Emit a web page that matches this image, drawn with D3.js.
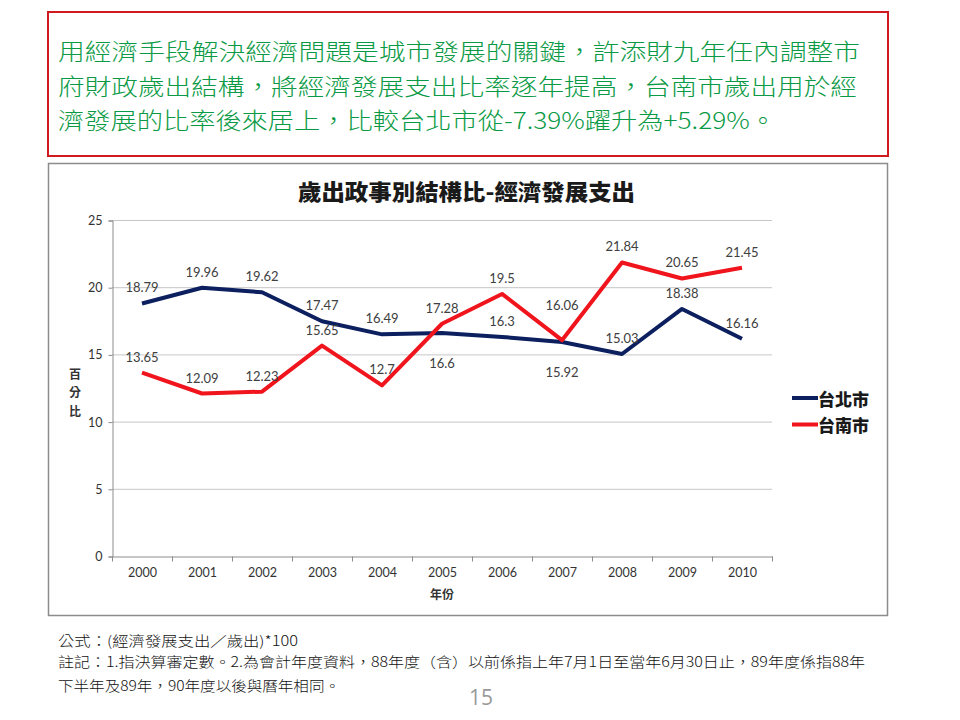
<!DOCTYPE html>
<html>
<head>
	<meta charset="utf-8">
	<script src="https://d3js.org/d3.v7.min.js"></script>
	<title></title>
	<style type="text/css">
		body{
			margin:0;
			background:#ffffff;
		}
		.grid line{
			stroke:#c6c6c6;
		}
		.lbl{
			font-family: Lato, "Open Sans", sans-serif;
			font-size:13px;
			fill:#404040;
		}
	</style>
</head>
<body>

	<div id="chart"></div>

	<script type="text/javascript">

		// chart data
		var years = ["2000","2001","2002","2003","2004","2005","2006","2007","2008","2009","2010"];
		var taipei = [18.79, 19.96, 19.62, 17.47, 16.49, 16.6, 16.3, 15.92, 15.03, 18.38, 16.16];
		var tainan = [13.65, 12.09, 12.23, 15.65, 12.7, 17.28, 19.5, 16.06, 21.84, 20.65, 21.45];
		var seriesNames = ["台北市", "台南市"];
		var yTicks = [0, 5, 10, 15, 20, 25];
		// labels moved by hand in the original
		var taipeiBelow = ["2005", "2007"];
		var tainanRaised = ["2007"];

		var chartTitle = "歲出政事別結構比-經濟發展支出";
		var yTitle = ["百", "分", "比"];
		var xTitle = "年份";
		var headLines = [
			"用經濟手段解決經濟問題是城市發展的關鍵，許添財九年任內調整市",
			"府財政歲出結構，將經濟發展支出比率逐年提高，台南市歲出用於經",
			"濟發展的比率後來居上，比較台北市從-7.39%躍升為+5.29%。"
		];
		var notes = [
			"公式：(經濟發展支出／歲出)*100",
			"註記：1.指決算審定數。2.為會計年度資料，88年度（含）以前係指上年7月1日至當年6月30日止，89年度係指88年",
			"下半年及89年，90年度以後與曆年相同。"
		];
		var pageNo = "15";

		var width = 960, height = 720;

		var svg = d3.select("#chart")
		  .append("svg")
		  .attr("width", width)
		  .attr("height", height);

		// top red box with green text
		svg.append("rect")
		  .attr("x", 48).attr("y", 12)
		  .attr("width", 840).attr("height", 144)
		  .attr("fill", "none")
		  .attr("stroke", "#d01a1f")
		  .attr("stroke-width", 2);

		var headLen = [802, 799, 718];
		svg.selectAll(".head")
		  .data(headLines)
		  .enter().append("text")
		  .attr("class", "head")
		  .attr("x", 58)
		  .attr("y", function(d, i){ return 50 + i * 34.5 })
		  .attr("dominant-baseline", "central")
		  .attr("textLength", function(d, i){ return headLen[i] })
		  .attr("lengthAdjust", "spacingAndGlyphs")
		  .style("font-family", '"Noto Sans CJK TC", sans-serif')
		  .style("font-weight", "300")
		  .style("font-size", "23px")
		  .style("fill", "#0a9a45")
		  .text(function(d){ return d });

		// chart frame
		svg.append("rect")
		  .attr("x", 48.5).attr("y", 163.5)
		  .attr("width", 839).attr("height", 452)
		  .attr("fill", "#ffffff")
		  .attr("stroke", "#8c8c8c")
		  .attr("stroke-width", 1.5);

		svg.append("text")
		  .attr("x", 298).attr("y", 190)
		  .attr("dominant-baseline", "central")
		  .attr("textLength", 337)
		  .attr("lengthAdjust", "spacingAndGlyphs")
		  .style("font-family", '"Noto Sans CJK TC", sans-serif')
		  .style("font-weight", "900")
		  .style("font-size", "22px")
		  .style("fill", "#1a1a1a")
		  .text(chartTitle);

		var xscale = d3.scaleBand().domain(years).range([112, 772]).padding(0);
		var yscale = d3.scaleLinear().domain([0, 25]).range([556, 220]);

		// gridlines
		svg.append("g")
		  .attr("class", "grid")
		  .selectAll("line")
		  .data(yTicks.filter(function(t){ return t > 0 }))
		  .enter().append("line")
		  .attr("x1", 112).attr("x2", 772)
		  .attr("y1", function(d){ return yscale(d) + 0.5 })
		  .attr("y2", function(d){ return yscale(d) + 0.5 });

		var yaxis = svg.append("g")
		  .attr("transform", "translate(112.5,0.5)")
		  .call(d3.axisLeft(yscale).tickValues(yTicks).tickSize(4).tickPadding(6));

		var xaxis = svg.append("g")
		  .attr("transform", "translate(0.5,556.5)")
		  .call(d3.axisBottom(xscale).tickSize(0).tickPadding(12));

		// tick marks at band edges
		var edges = years.map(function(y){ return xscale(y) });
		edges.push(xscale(years[years.length - 1]) + xscale.bandwidth());
		xaxis.selectAll(".edge")
		  .data(edges)
		  .enter().append("line")
		  .attr("class", "edge")
		  .attr("x1", function(d){ return d })
		  .attr("x2", function(d){ return d })
		  .attr("y1", 0).attr("y2", 5)
		  .attr("stroke", "#8c8c8c");

		[yaxis, xaxis].forEach(function(ax){
			ax.select(".domain").attr("stroke", "#8c8c8c");
			ax.selectAll(".tick line").attr("stroke", "#8c8c8c");
			ax.selectAll("text")
			  .style("font-family", "Lato, 'Open Sans', sans-serif")
			  .style("font-size", "12.5px")
			  .style("fill", "#333333");
		});

		svg.append("text")
		  .attr("x", xscale("2005") + xscale.bandwidth() / 2)
		  .attr("y", 593)
		  .attr("text-anchor", "middle")
		  .attr("dominant-baseline", "central")
		  .style("font-family", '"Noto Sans CJK TC", sans-serif')
		  .style("font-size", "12px")
		  .style("font-weight", "bold")
		  .style("fill", "#333333")
		  .text(xTitle);

		svg.selectAll(".ytitle")
		  .data(yTitle)
		  .enter().append("text")
		  .attr("class", "ytitle")
		  .attr("x", 75)
		  .attr("y", function(d, i){ return 373 + i * 18.5 })
		  .attr("text-anchor", "middle")
		  .attr("dominant-baseline", "central")
		  .style("font-family", '"Noto Sans CJK TC", sans-serif')
		  .style("font-size", "12px")
		  .style("font-weight", "bold")
		  .style("fill", "#333333")
		  .text(function(d){ return d });

		var cx = function(i){ return xscale(years[i]) + xscale.bandwidth() / 2 };
		var line = d3.line()
		  .x(function(d, i){ return cx(i) })
		  .y(function(d){ return yscale(d) });

		var colors = ["#0c1f5e", "#f0141c"];
		[taipei, tainan].forEach(function(s, k){
			svg.append("path")
			  .datum(s)
			  .attr("d", line)
			  .attr("stroke", colors[k])
			  .style("stroke-width", 4)
			  .style("stroke-linejoin", "round")
			  .style("fill", "none");
		});

		// value labels
		[taipei, tainan].forEach(function(s, k){
			svg.append("g").selectAll("text")
			  .data(s)
			  .enter().append("text")
			  .attr("class", "lbl")
			  .attr("x", function(d, i){ return cx(i) })
			  .attr("y", function(d, i){
				  if (k == 0 && taipeiBelow.indexOf(years[i]) >= 0) return yscale(d) + 30;
				  if (k == 1 && tainanRaised.indexOf(years[i]) >= 0) return yscale(d) - 35;
				  return yscale(d) - 16;
			  })
			  .attr("text-anchor", "middle")
			  .attr("dominant-baseline", "central")
			  .text(function(d){ return d });
		});

		// legend
		var legend = svg.append("g").selectAll("g")
		  .data(seriesNames)
		  .enter().append("g")
		  .attr("transform", function(d, i){ return "translate(792," + (398 + i * 26.5) + ")" });
		legend.append("line")
		  .attr("x1", 0).attr("x2", 26)
		  .attr("stroke", function(d, i){ return colors[i] })
		  .attr("stroke-width", 4);
		legend.append("text")
		  .attr("x", 26)
		  .attr("dominant-baseline", "central")
		  .style("font-family", '"Noto Sans CJK TC", sans-serif')
		  .style("font-weight", "900")
		  .style("font-size", "17px")
		  .style("fill", "#1a1a1a")
		  .text(function(d){ return d });

		// footnotes
		var noteLen = [240, 807, 282];
		svg.selectAll(".note")
		  .data(notes)
		  .enter().append("text")
		  .attr("class", "note")
		  .attr("x", 58)
		  .attr("y", function(d, i){ return [640, 661, 685][i] })
		  .attr("dominant-baseline", "central")
		  .attr("textLength", function(d, i){ return noteLen[i] })
		  .attr("lengthAdjust", "spacingAndGlyphs")
		  .style("font-family", '"Noto Sans CJK TC", sans-serif')
		  .style("font-weight", "300")
		  .style("font-size", "14px")
		  .style("fill", "#111111")
		  .text(function(d){ return d });

		svg.append("text")
		  .attr("x", 481).attr("y", 697)
		  .attr("text-anchor", "middle")
		  .attr("dominant-baseline", "central")
		  .style("font-family", "'Open Sans', sans-serif")
		  .style("font-size", "21px")
		  .style("fill", "#999999")
		  .text(pageNo);

	</script>

</body>
</html>
